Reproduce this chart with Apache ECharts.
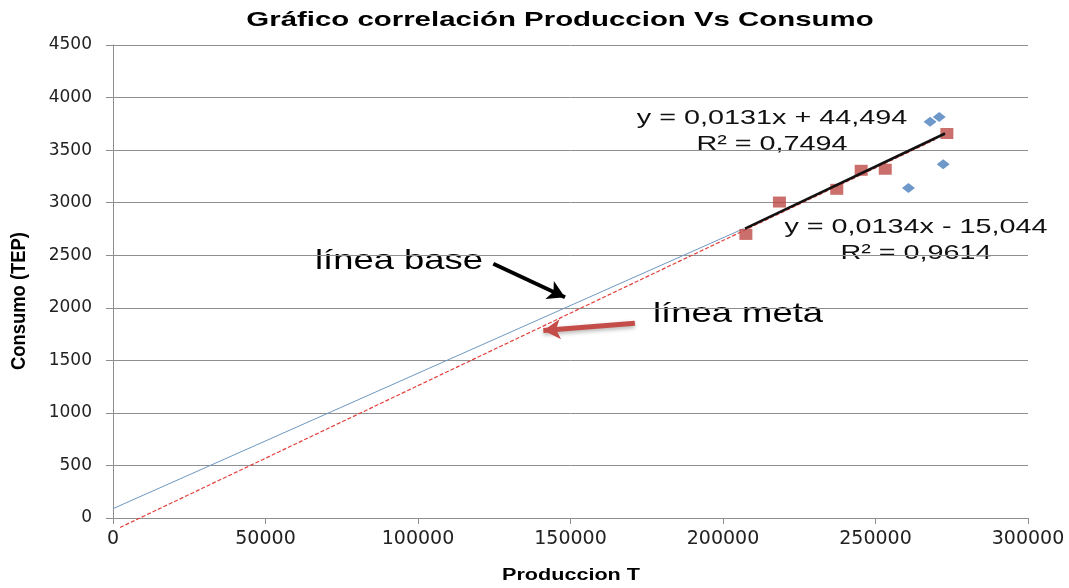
<!DOCTYPE html>
<html>
<head>
<meta charset="utf-8">
<title>Gráfico correlación Produccion Vs Consumo</title>
<script src="https://cdn.jsdelivr.net/npm/echarts@6/dist/echarts.min.js"></script>
<style>
html, body { margin: 0; padding: 0; background: #fff; }
#main { width: 1069px; height: 588px; }
</style>
</head>
<body>
<div id="main"></div>
<script>
// puntos de la línea base (rombos azules)
var prodBase = [267900, 270900, 272200, 260800];
var consBase = [3769, 3816, 3366, 3140];

// puntos de la línea meta (cuadrados rojos)
var prodMeta = [207500, 218500, 237300, 245300, 253200, 273400];
var consMeta = [2698, 3006, 3127, 3308, 3318, 3658];

// extremos de las rectas
var baseLineX = [0, 206700];
var baseLineY = [89, 2752];
var metaLineX = [2300, 269500];
var metaLineY = [-90, 3600];
var trendX = [207200, 272800];
var trendY = [2752, 3658];

// flechas de anotación (en unidades de datos)
var arrowBase = [[124700, 2419], [148200, 2100]];
var arrowMeta = [[171100, 1852], [141100, 1783]];

function pairs(xs, ys) {
    return xs.map(function (x, i) { return [x, ys[i]]; });
}

var myChart = echarts.init(document.getElementById('main'));

var txtFont = '"Liberation Sans", Arial, sans-serif';
var gridColor = '#8e8e8e';

option = {
    animation: false,
    backgroundColor: '#fff',
    grid: {
        left: 113,
        right: 41,
        top: 45,
        bottom: 70
    },
    xAxis: {
        type: 'value',
        min: 0,
        max: 300000,
        interval: 50000,
        axisLine: { show: true, lineStyle: { color: gridColor, width: 1 } },
        axisTick: { show: true, length: 6, lineStyle: { color: gridColor } },
        splitLine: { show: false },
        axisLabel: {
            margin: 12,
            color: '#222',
            fontFamily: '"DejaVu Sans", sans-serif',
            fontSize: 19,
            formatter: function (v) { return String(v); }
        }
    },
    yAxis: {
        type: 'value',
        min: 0,
        max: 4500,
        interval: 500,
        axisLine: { show: true, lineStyle: { color: gridColor, width: 1 } },
        axisTick: { show: true, length: 7, lineStyle: { color: gridColor } },
        splitLine: { show: true, lineStyle: { color: gridColor, width: 1 } },
        axisLabel: {
            margin: 21,
            color: '#222',
            fontFamily: '"DejaVu Sans", sans-serif',
            fontSize: 17,
            formatter: function (v) { return String(v); }
        }
    },
    graphic: [
        {
            type: 'text', x: 560, y: 20, scaleX: 1.4,
            style: { text: 'Gráfico correlación Produccion Vs Consumo', fontFamily: txtFont,
                fontWeight: 'bold', fontSize: 21, fill: '#000', textAlign: 'center', textVerticalAlign: 'middle' }
        },
        {
            type: 'text', x: 19, y: 301, rotation: Math.PI / 2, scaleX: 1.15, scaleY: 1.25,
            style: { text: 'Consumo (TEP)', fontFamily: txtFont, fontWeight: 'bold', fontSize: 16,
                fill: '#000', textAlign: 'center', textVerticalAlign: 'middle' }
        },
        {
            type: 'text', x: 571, y: 576, scaleX: 1.35,
            style: { text: 'Produccion T', fontFamily: txtFont, fontWeight: 'bold', fontSize: 16,
                fill: '#000', textAlign: 'center', textVerticalAlign: 'middle' }
        },
        // ecuaciones de tendencia
        {
            type: 'text', x: 772, y: 118, scaleX: 1.37,
            style: { text: 'y = 0,0131x + 44,494', fontFamily: txtFont, fontSize: 21, fill: '#111',
                textAlign: 'center', textVerticalAlign: 'middle' }
        },
        {
            type: 'text', x: 772, y: 144, scaleX: 1.37,
            style: { text: 'R² = 0,7494', fontFamily: txtFont, fontSize: 21, fill: '#111',
                textAlign: 'center', textVerticalAlign: 'middle' }
        },
        {
            type: 'text', x: 916, y: 227, scaleX: 1.37,
            style: { text: 'y = 0,0134x - 15,044', fontFamily: txtFont, fontSize: 21, fill: '#111',
                textAlign: 'center', textVerticalAlign: 'middle' }
        },
        {
            type: 'text', x: 916, y: 253, scaleX: 1.37,
            style: { text: 'R² = 0,9614', fontFamily: txtFont, fontSize: 21, fill: '#111',
                textAlign: 'center', textVerticalAlign: 'middle' }
        },
        {
            type: 'text', x: 399, y: 261, scaleX: 1.3,
            style: { text: 'línea base', fontFamily: txtFont, fontSize: 28, fill: '#000',
                textAlign: 'center', textVerticalAlign: 'middle' }
        },
        {
            type: 'text', x: 738, y: 314, scaleX: 1.3,
            style: { text: 'línea meta', fontFamily: txtFont, fontSize: 28, fill: '#000',
                textAlign: 'center', textVerticalAlign: 'middle' }
        }
    ],
    series: [
        {
            name: 'línea base',
            type: 'line',
            data: pairs(baseLineX, baseLineY),
            showSymbol: false,
            symbol: 'none',
            lineStyle: { color: '#6e98c2', width: 1 },
            z: 2,
            markLine: {
                silent: true,
                symbol: ['none', 'arrow'],
                symbolSize: [15, 17],
                label: { show: false },
                data: [
                    [
                        { coord: arrowBase[0], lineStyle: { color: '#000', width: 4, type: 'solid' } },
                        { coord: arrowBase[1] }
                    ],
                    [
                        { coord: arrowMeta[0], lineStyle: { color: '#c44d49', width: 5, type: 'solid',
                            shadowBlur: 4, shadowColor: 'rgba(0,0,0,0.3)', shadowOffsetY: 2 } },
                        { coord: arrowMeta[1] }
                    ]
                ]
            }
        },
        {
            name: 'línea meta',
            type: 'line',
            data: pairs(metaLineX, metaLineY),
            showSymbol: false,
            symbol: 'none',
            clip: false,
            lineStyle: { color: '#e2403b', width: 1.2, type: [4, 2] },
            z: 2
        },
        {
            name: 'base',
            type: 'scatter',
            data: pairs(prodBase, consBase),
            symbol: 'diamond',
            symbolSize: [13, 10],
            itemStyle: { color: '#4a7ebb' },
            z: 3
        },
        {
            name: 'meta',
            type: 'scatter',
            data: pairs(prodMeta, consMeta),
            symbol: 'rect',
            symbolSize: [13, 11],
            itemStyle: { color: '#be4b48' },
            z: 3
        },
        {
            name: 'tendencia',
            type: 'line',
            data: pairs(trendX, trendY),
            showSymbol: false,
            symbol: 'none',
            lineStyle: { color: '#111', width: 2.5 },
            z: 4
        }
    ]
};

myChart.setOption(option);
</script>
</body>
</html>
